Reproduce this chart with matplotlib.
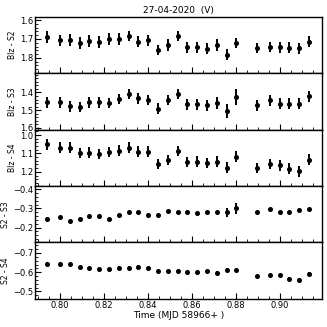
import matplotlib
matplotlib.use("Agg")
import matplotlib.pyplot as plt
from matplotlib.ticker import MultipleLocator

# time (MJD 58966+)
t = [0.7942, 0.8000, 0.8045, 0.8090, 0.8133, 0.8179, 0.8223, 0.8268, 0.8312,
     0.8356, 0.8401, 0.8445, 0.8490, 0.8535, 0.8579, 0.8623, 0.8668, 0.8712,
     0.8758, 0.8801, 0.8894, 0.8953, 0.8999, 0.9042, 0.9088, 0.9132]

blz_s2 = [1.690, 1.708, 1.705, 1.721, 1.710, 1.717, 1.701, 1.701, 1.685,
          1.714, 1.708, 1.759, 1.732, 1.685, 1.744, 1.744, 1.751, 1.732,
          1.784, 1.721, 1.749, 1.742, 1.744, 1.746, 1.749, 1.715]
blz_s2_err = [0.030, 0.030, 0.030, 0.030, 0.030, 0.030, 0.030, 0.030, 0.028,
              0.028, 0.028, 0.028, 0.030, 0.028, 0.028, 0.028, 0.030, 0.030,
              0.030, 0.028, 0.028, 0.028, 0.028, 0.030, 0.030, 0.030]

blz_s3 = [1.455, 1.455, 1.478, 1.482, 1.455, 1.455, 1.460, 1.436, 1.409,
          1.434, 1.442, 1.491, 1.442, 1.409, 1.467, 1.467, 1.473, 1.460,
          1.504, 1.427, 1.473, 1.445, 1.463, 1.463, 1.463, 1.422]
blz_s3_err = [0.032, 0.030, 0.030, 0.030, 0.030, 0.030, 0.030, 0.030, 0.030,
              0.030, 0.030, 0.030, 0.030, 0.030, 0.030, 0.030, 0.030, 0.032,
              0.040, 0.045, 0.030, 0.030, 0.030, 0.030, 0.030, 0.030]

blz_s4 = [1.050, 1.068, 1.068, 1.098, 1.095, 1.104, 1.093, 1.084, 1.068,
          1.090, 1.090, 1.156, 1.134, 1.086, 1.147, 1.144, 1.152, 1.144,
          1.179, 1.117, 1.179, 1.158, 1.165, 1.184, 1.197, 1.134]
blz_s4_err = [0.030, 0.028, 0.028, 0.028, 0.028, 0.028, 0.028, 0.028, 0.028,
              0.028, 0.028, 0.028, 0.028, 0.028, 0.028, 0.028, 0.028, 0.030,
              0.030, 0.028, 0.028, 0.028, 0.028, 0.030, 0.030, 0.030]

s2_s3 = [-0.247, -0.256, -0.232, -0.244, -0.258, -0.261, -0.244, -0.265, -0.279,
         -0.279, -0.266, -0.266, -0.287, -0.279, -0.279, -0.275, -0.282, -0.279,
         -0.279, -0.300, -0.282, -0.296, -0.282, -0.282, -0.291, -0.296]
s2_s3_err = [0.006, 0.006, 0.006, 0.006, 0.006, 0.006, 0.006, 0.006, 0.006,
             0.006, 0.006, 0.006, 0.006, 0.006, 0.006, 0.006, 0.006, 0.006,
             0.022, 0.030, 0.006, 0.006, 0.006, 0.006, 0.006, 0.006]

s2_s4 = [-0.645, -0.643, -0.643, -0.627, -0.620, -0.617, -0.617, -0.624, -0.624,
         -0.629, -0.622, -0.606, -0.606, -0.606, -0.601, -0.601, -0.604, -0.596,
         -0.612, -0.612, -0.578, -0.587, -0.583, -0.567, -0.561, -0.591]
s2_s4_err = [0.006, 0.006, 0.006, 0.006, 0.006, 0.006, 0.006, 0.006, 0.006,
             0.006, 0.006, 0.006, 0.006, 0.006, 0.006, 0.006, 0.006, 0.010,
             0.008, 0.006, 0.008, 0.006, 0.006, 0.008, 0.008, 0.008]

panels = [
    ("Blz - S2", blz_s2, blz_s2_err, (1.881, 1.582), [1.6, 1.7, 1.8]),
    ("Blz - S3", blz_s3, blz_s3_err, (1.609, 1.291), [1.4, 1.5, 1.6]),
    ("Blz - S4", blz_s4, blz_s4_err, (1.277, 0.970), [1.0, 1.1, 1.2]),
    ("S2 - S3", s2_s3, s2_s3_err, (-0.122, -0.417), [-0.4, -0.3, -0.2]),
    ("S2 - S4", s2_s4, s2_s4_err, (-0.461, -0.755), [-0.7, -0.6, -0.5]),
]

plt.rcParams['font.family'] = ['DejaVu Sans']

fig, axes = plt.subplots(5, 1, sharex=True, figsize=(3.27, 3.27), dpi=100)
fig.subplots_adjust(left=0.107, right=0.985, top=0.949, bottom=0.086, hspace=0)

for ax, (label, y, err, lim, ticks) in zip(axes, panels):
    ax.errorbar(t, y, yerr=err, fmt='o', color='black', ms=2.6,
                elinewidth=1.4, capsize=0)
    ax.set_ylim(*lim)
    ax.set_yticks(ticks)
    ax.yaxis.set_minor_locator(MultipleLocator(0.02))
    ax.set_ylabel(label, fontsize=5.5, labelpad=2)
    ax.tick_params(axis='both', which='major', direction='in', labelsize=6,
                   length=4, width=0.8, pad=1.5)
    ax.tick_params(axis='both', which='minor', direction='in', length=2, width=0.6)
    for s in ax.spines.values():
        s.set_linewidth(1.0)

axes[-1].set_xlim(0.7886, 0.9191)
axes[-1].xaxis.set_major_locator(MultipleLocator(0.02))
axes[-1].xaxis.set_minor_locator(MultipleLocator(0.005))
axes[-1].xaxis.set_major_formatter(matplotlib.ticker.FormatStrFormatter('%.2f'))
axes[-1].set_xlabel("Time (MJD 58966+ )", fontsize=6.5, labelpad=1)
axes[0].set_title("27-04-2020  (V)", fontsize=6.5, pad=3)

fig.savefig("out.png", dpi=100)
